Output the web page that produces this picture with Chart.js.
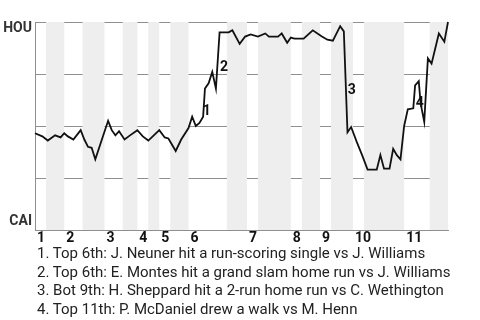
<!DOCTYPE html>
<html>
<head>
<meta charset="utf-8">
<script src="https://cdn.jsdelivr.net/npm/chart.js@4.4.1/dist/chart.umd.min.js"></script>
<style>
  body { margin: 0; background: #fff; }
  #wrap { position: relative; width: 480px; height: 320px; }
  #notes {
    position: absolute; left: 37px; top: 244px;
    font-family: Roboto, sans-serif; font-size: 15px; line-height: 18.5px; color: #222;
  }
</style>
</head>
<body>
<div id="wrap">
  <canvas id="wpChart" width="480" height="245"></canvas>
  <div id="notes"></div>
</div>
<script>
// play index along the game, HOU win probability (%)
const playX = [0, 2, 3.5, 5.5, 7, 8, 9, 10.5, 12.5, 13.5, 14.5, 15.5, 16.5, 20, 21, 22, 23, 24.5, 26, 28,
  29.5, 31, 32.5, 34, 35.5, 36.5, 38.5, 40, 42, 43, 44, 45, 46, 46.5, 47.5, 48.5, 49.5, 50.5, 53, 54,
  56, 57.5, 59, 61, 63, 64, 66.5, 67.5, 69, 70, 71, 73.5, 76, 78.5, 80, 81.5, 83.5, 84.5, 85.5, 86.5,
  88, 89.5, 91, 93.5, 94.5, 95.5, 97, 98, 99, 100, 101, 102, 103.5, 104, 105, 105.5, 106.5, 107.5, 108.5, 110.5,
  112, 113];
const houWp = [46.5, 45, 43, 45.5, 44.5, 46.5, 45, 43.5, 48, 43.5, 40, 39.5, 34, 52.5, 48, 45.5, 47.5, 43.5, 45.5, 48,
  45, 43, 45.5, 48, 44.5, 44, 38, 43.5, 49, 54.5, 50, 51.5, 54.5, 68, 70.5, 76, 68, 95, 95, 96,
  89.5, 93, 94, 93, 94.5, 93, 93, 94.5, 90, 92.5, 92, 92, 96, 93, 91.5, 91, 98, 95.5, 47, 49.5,
  42.5, 36, 29, 29, 36, 29.5, 29.5, 39, 36, 34, 50, 58, 58.5, 69.5, 71.5, 61, 52, 82.5, 80, 94.5,
  90.5, 100];

// innings: where each starts, and the bottom halves (shaded)
const inningStart = [0, 8, 19, 28, 34, 42, 58, 70, 78, 87, 101];
const inningLabels = ['1', '2', '3', '4', '5', '6', '7', '8', '9', '10', '11'];
const bottomFrom = [3, 13, 24, 31, 37, 52.5, 61, 73, 81, 90, 108];
const bottomTo = [8, 19, 28, 34, 42, 58, 70, 78, 87, 101, 113];

// key plays
const noteX = [47, 51.7, 86.7, 105.3];
const noteY = [57, 78, 67.3, 61];
const noteText = ['1', '2', '3', '4'];
const notes = [
  '1. Top 6th: J. Neuner hit a run-scoring single vs J. Williams',
  '2. Top 6th: E. Montes hit a grand slam home run vs J. Williams',
  '3. Bot 9th: H. Sheppard hit a 2-run home run vs C. Wethington',
  '4. Top 11th: P. McDaniel drew a walk vs M. Henn'
];

document.getElementById('notes').innerHTML = notes.map(n => '<div>' + n + '</div>').join('');

const gridGray = '#8f8f8f';

const bands = {
  id: 'bands',
  beforeDatasetsDraw(chart) {
    const { ctx, chartArea, scales } = chart;
    ctx.save();
    ctx.fillStyle = '#eeeeee';
    for (let i = 0; i < bottomFrom.length; i++) {
      const x0 = scales.x.getPixelForValue(bottomFrom[i]);
      const x1 = scales.x.getPixelForValue(bottomTo[i]);
      ctx.fillRect(x0, chartArea.top, x1 - x0, chartArea.bottom - chartArea.top);
    }
    ctx.restore();
  }
};

const markers = {
  id: 'markers',
  afterDatasetsDraw(chart) {
    const { ctx, scales } = chart;
    ctx.save();
    ctx.font = 'bold 14px Roboto';
    ctx.fillStyle = '#111';
    ctx.textAlign = 'center';
    ctx.textBaseline = 'middle';
    noteText.forEach((t, i) => {
      ctx.fillText(t, scales.x.getPixelForValue(noteX[i]), scales.y.getPixelForValue(noteY[i]));
    });
    ctx.restore();
  }
};

const ctx = document.getElementById('wpChart').getContext('2d');
new Chart(ctx, {
  type: 'line',
  data: {
    datasets: [{
      data: playX.map((x, i) => ({ x: x, y: houWp[i] })),
      borderColor: '#111',
      borderWidth: 1.8,
      pointRadius: 0,
      tension: 0,
      fill: false,
      clip: 3
    }]
  },
  options: {
    responsive: false,
    animation: false,
    devicePixelRatio: 1,
    layout: { padding: { top: 22, right: 32, left: 0, bottom: 0 } },
    plugins: { legend: { display: false }, tooltip: { enabled: false } },
    scales: {
      x: {
        type: 'linear',
        min: 0,
        max: 113,
        afterBuildTicks: (axis) => { axis.ticks = inningStart.map(v => ({ value: v })); },
        afterFit: (axis) => { axis.height = 15; },
        ticks: {
          autoSkip: false,
          maxRotation: 0,
          align: 'start',
          labelOffset: 2,
          padding: 0,
          color: '#111',
          font: { family: 'Roboto', size: 14, weight: 'bold' },
          callback: (v) => inningLabels[inningStart.indexOf(v)]
        },
        grid: { display: false, drawTicks: false },
        border: { color: gridGray }
      },
      y: {
        min: 0,
        max: 100,
        position: 'left',
        afterBuildTicks: (axis) => { axis.ticks = [{ value: 4 }, { value: 97 }]; },
        afterFit: (axis) => { axis.width = 35; },
        ticks: {
          padding: 3,
          color: '#333',
          font: { family: 'Roboto', size: 14, weight: 'bold' },
          callback: (v) => (v > 50 ? 'HOU' : 'CAI')
        },
        grid: { display: false, drawTicks: false },
        border: { color: gridGray }
      },
      y2: {
        min: 0,
        max: 100,
        position: 'right',
        afterBuildTicks: (axis) => { axis.ticks = [25, 50, 75, 100].map(v => ({ value: v })); },
        afterFit: (axis) => { axis.width = 0; },
        ticks: { display: false },
        grid: { color: gridGray, drawTicks: false },
        border: { display: false }
      }
    }
  },
  plugins: [bands, markers]
});
</script>
</body>
</html>
